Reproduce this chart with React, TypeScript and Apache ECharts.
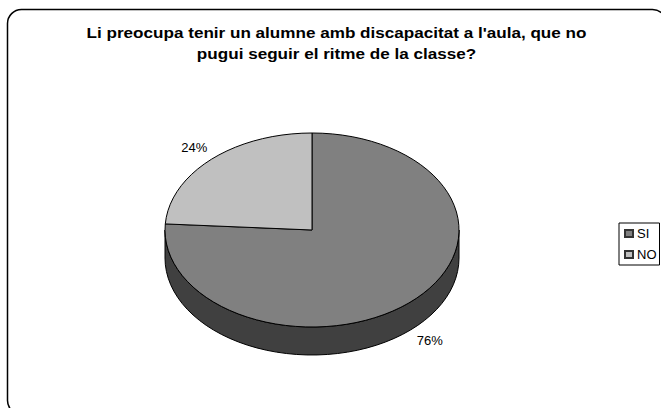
import React, { useEffect, useRef } from "react";
import * as echarts from "echarts";

const titleLines = ["Li preocupa tenir un alumne amb discapacitat a l'aula, que no", "pugui seguir el ritme de la classe?"];
const sliceNames = ["SI", "NO"];
const sliceValues = [76, 24];
const sliceColors = ["#808080", "#C0C0C0"];
const wallColor = "#404040";

const CX = 312, CY = 230, RX = 147, RY = 97, DEPTH = 28;
const FONT = '"Liberation Sans", Arial, sans-serif';
const total = sliceValues.reduce((a, b) => a + b, 0);

const pointAt = (fraction: number, k = 1) => {
  const a = fraction * 2 * Math.PI;
  return [CX + RX * k * Math.sin(a), CY - RY * k * Math.cos(a)];
};

const arcPoints = (from: number, to: number) => {
  const n = Math.max(2, Math.ceil((to - from) * 90));
  const pts: number[][] = [];
  for (let i = 0; i <= n; i++) pts.push(pointAt(from + ((to - from) * i) / n));
  return pts;
};

const wallSeries = {
  type: "custom",
  name: "wall",
  coordinateSystem: "none",
  silent: true,
  z: 1,
  data: [0],
  renderItem: () => {
    const front = arcPoints(0.25, 0.75);
    const lower = front.map(([x, y]) => [x, y + DEPTH]);
    return {
      type: "polygon",
      shape: { points: [...front.slice().reverse(), ...lower] },
      style: { fill: wallColor, stroke: "#000", lineWidth: 1 },
    };
  },
};

const sliceSeries = sliceNames.map((name, idx) => {
  const from = sliceValues.slice(0, idx).reduce((a, b) => a + b, 0) / total;
  const to = from + sliceValues[idx] / total;
  const mid = (from + to) / 2;
  const [lx, ly0] = pointAt(mid, 1.17);
  const ly = ly0 + (Math.cos(mid * 2 * Math.PI) < 0 ? DEPTH : 0);
  return {
    type: "custom",
    name,
    coordinateSystem: "none",
    silent: true,
    z: 2,
    itemStyle: { color: sliceColors[idx], borderColor: "#333", borderWidth: 1 },
    data: [sliceValues[idx]],
    renderItem: () => ({
      type: "group",
      children: [
        {
          type: "polygon",
          shape: { points: [[CX, CY], ...arcPoints(from, to)] },
          style: { fill: sliceColors[idx], stroke: "#000", lineWidth: 1, lineJoin: "miter" },
        },
        {
          type: "text",
          style: {
            x: lx,
            y: ly,
            text: `${Math.round((sliceValues[idx] / total) * 100)}%`,
            fill: "#000",
            font: `13px ${FONT}`,
            align: "center",
            verticalAlign: "middle",
          },
        },
      ],
    }),
  };
});

export default function App() {
  const ref = useRef<HTMLDivElement>(null);
  useEffect(() => {
    document.body.style.margin = "0";
    const chart = echarts.init(ref.current!, null, { renderer: "svg" });
    chart.setOption({
      animation: false,
      backgroundColor: "#fff",
      graphic: [
        {
          type: "rect",
          z: 0,
          shape: { x: 7.5, y: 9.5, width: 659, height: 405, r: 14 },
          style: { fill: "#fff", stroke: "#000", lineWidth: 1.5 },
        },
        ...titleLines.map((line, i) => ({
          type: "text",
          z: 5,
          x: 336.5,
          y: 32 + i * 21,
          scaleX: 1.14,
          style: {
            x: 0,
            y: 0,
            text: line,
            fill: "#000",
            font: `bold 15px ${FONT}`,
            align: "center",
            verticalAlign: "middle",
          },
        })),
      ],
      legend: {
        data: sliceNames,
        orient: "vertical",
        left: 619,
        top: 223,
        padding: [4, 3, 4, 5],
        itemGap: 8,
        itemWidth: 8,
        itemHeight: 7,
        icon: "rect",
        borderColor: "#000",
        borderWidth: 1,
        selectedMode: false,
        textStyle: { fontFamily: FONT, fontSize: 13, color: "#000", padding: [0, 0, 0, -1] },
      },
      series: [wallSeries, ...sliceSeries],
    });
    return () => chart.dispose();
  }, []);
  return <div ref={ref} style={{ width: 661, height: 408 }} />;
}
